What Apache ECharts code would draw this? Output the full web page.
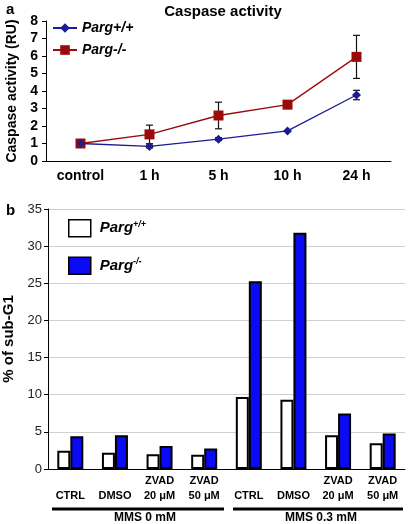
<!DOCTYPE html>
<html><head><meta charset="utf-8">
<script src="https://cdn.jsdelivr.net/npm/echarts@6/dist/echarts.min.js"></script>
<style>html,body{margin:0;padding:0;background:#fff}#c{width:408px;height:524px}</style>
</head><body><div id="c"></div>
<script>
// Panel a: caspase activity
const timeCats = ['control', '1 h', '5 h', '10 h', '24 h'];
const caspWT = [1.0, 0.83, 1.25, 1.72, 3.77];
const caspWTErr = [0, 0.08, 0.08, 0.06, 0.27];
const caspKO = [1.0, 1.52, 2.6, 3.22, 5.95];
const caspKOErr = [0, 0.53, 0.76, 0.05, 1.23];
const caspTicks = [0, 1, 2, 3, 4, 5, 6, 7, 8];

// Panel b: % of sub-G1
const treatCats = ['CTRL', 'DMSO', 'ZVAD\n20 μM', 'ZVAD\n50 μM', 'CTRL', 'DMSO', 'ZVAD\n20 μM', 'ZVAD\n50 μM'];
const subG1WT = [2.46, 2.19, 2.0, 1.92, 9.69, 9.33, 4.55, 3.48];
const subG1KO = [4.42, 4.55, 3.08, 2.77, 25.27, 31.8, 7.46, 4.78];
const groupLabels = ['MMS 0 mM', 'MMS 0.3 mM'];

const FONT = 'Liberation Sans, Arial, sans-serif';
const RED = '#9a0a0a', NAVY = '#1c1c96', BLUE = '#0a0af5';

function errSeries(vals, errs) {
  const data = vals.map((v, i) => [i, v - errs[i], v + errs[i]]).filter((d, i) => errs[i] > 0.06);
  return {
    type: 'custom', xAxisIndex: 0, yAxisIndex: 0, z: 1,
    data: data,
    renderItem: function (params, api) {
      const x = api.value(0);
      const lo = api.coord([x, api.value(1)]);
      const hi = api.coord([x, api.value(2)]);
      const w = 3.5;
      const st = { stroke: '#111', lineWidth: 1.2 };
      return { type: 'group', children: [
        { type: 'line', shape: { x1: lo[0], y1: lo[1], x2: hi[0], y2: hi[1] }, style: st },
        { type: 'line', shape: { x1: lo[0] - w, y1: lo[1], x2: lo[0] + w, y2: lo[1] }, style: st },
        { type: 'line', shape: { x1: hi[0] - w, y1: hi[1], x2: hi[0] + w, y2: hi[1] }, style: st }
      ]};
    }
  };
}

const chart = echarts.init(document.getElementById('c'), null, { renderer: 'canvas' });
chart.setOption({
  animation: false,
  textStyle: { fontFamily: FONT },
  title: [
    { text: 'Caspase activity', left: 218, textAlign: 'center', top: -1, textStyle: { fontSize: 15, fontWeight: 'bold', color: '#000', fontFamily: FONT } },
    { text: 'a', left: 1, top: -3, textStyle: { fontSize: 15, fontWeight: 'bold', color: '#000', fontFamily: FONT } },
    { text: 'b', left: 1, top: 198, textStyle: { fontSize: 15, fontWeight: 'bold', color: '#000', fontFamily: FONT } }
  ],
  legend: [
    { orient: 'vertical', left: 52, top: 21, padding: 0, itemWidth: 24, itemHeight: 12, itemGap: 8,
      data: ['Parg+/+', 'Parg-/-'],
      textStyle: { fontSize: 14, fontWeight: 'bold', fontStyle: 'italic', color: '#000', fontFamily: FONT } },
    { orient: 'vertical', left: 68, top: 219, padding: 0, itemWidth: 22, itemHeight: 17, itemGap: 19,
      data: [{ name: 'wt', icon: 'rect' }, { name: 'ko', icon: 'rect' }],
      itemStyle: { borderColor: '#000', borderWidth: 1.5 },
      formatter: function (n) { return n === 'wt' ? '{b|Parg}{s|+/+}' : '{b|Parg}{s|-/-}'; },
      textStyle: { padding: [0, 0, 0, 4], rich: {
        b: { fontSize: 15, fontWeight: 'bold', fontStyle: 'italic', color: '#000', fontFamily: FONT },
        s: { fontSize: 9, fontWeight: 'bold', fontStyle: 'italic', color: '#000', fontFamily: FONT, verticalAlign: 'top', padding: [0, 0, 8, 0] }
      } } }
  ],
  grid: [
    { left: 46, top: 21, width: 345, height: 140, containLabel: false, outerBoundsMode: 'none' },
    { left: 48, top: 209, width: 357, height: 260, containLabel: false, outerBoundsMode: 'none' }
  ],
  xAxis: [
    { type: 'category', gridIndex: 0, data: timeCats, boundaryGap: true,
      axisLine: { lineStyle: { color: '#000', width: 1 } },
      axisTick: { length: 4, lineStyle: { color: '#000' } },
      axisLabel: { fontSize: 14, fontWeight: 'bold', color: '#000', margin: 8, fontFamily: FONT } },
    { type: 'category', gridIndex: 1, data: treatCats, boundaryGap: true,
      axisLine: { lineStyle: { color: '#000', width: 1 } },
      axisTick: { length: 5, lineStyle: { color: '#000' } },
      axisLabel: { fontSize: 11, fontWeight: 'bold', color: '#000', margin: 4, lineHeight: 15, fontFamily: FONT, interval: 0,
        formatter: function (v) { return v.indexOf('\n') < 0 ? '\n' + v : v; } } }
  ],
  yAxis: [
    { type: 'value', gridIndex: 0, min: caspTicks[0], max: caspTicks[caspTicks.length - 1], interval: 1,
      name: 'Caspase activity (RU)', nameLocation: 'middle', nameGap: 26,
      nameTextStyle: { fontSize: 14, fontWeight: 'bold', color: '#000', fontFamily: FONT },
      axisLine: { show: true, lineStyle: { color: '#000' } },
      axisTick: { show: true, length: 4, lineStyle: { color: '#000' } },
      splitLine: { show: false },
      axisLabel: { fontSize: 14, fontWeight: 'bold', color: '#000', margin: 8, fontFamily: FONT } },
    { type: 'value', gridIndex: 1, min: 0, max: 35, interval: 5,
      name: '% of sub-G1', nameLocation: 'middle', nameGap: 30,
      nameTextStyle: { fontSize: 15, fontWeight: 'bold', color: '#000', fontFamily: FONT },
      axisLine: { show: true, lineStyle: { color: '#000' } },
      axisTick: { show: true, length: 4, lineStyle: { color: '#000' } },
      splitLine: { show: true, lineStyle: { color: '#cfcfcf', width: 1 } },
      axisLabel: { fontSize: 13, color: '#222', margin: 6, fontFamily: FONT } }
  ],
  series: [
    errSeries(caspKO, caspKOErr),
    errSeries(caspWT, caspWTErr),
    { name: 'Parg+/+', type: 'line', xAxisIndex: 0, yAxisIndex: 0, data: caspWT, z: 3,
      symbol: 'diamond', symbolSize: 9, color: NAVY,
      lineStyle: { color: NAVY, width: 1.3 }, itemStyle: { color: NAVY } },
    { name: 'Parg-/-', type: 'line', xAxisIndex: 0, yAxisIndex: 0, data: caspKO, z: 2,
      symbol: 'rect', symbolSize: 10, color: RED,
      lineStyle: { color: RED, width: 1.3 }, itemStyle: { color: RED } },
    { name: 'wt', type: 'bar', xAxisIndex: 1, yAxisIndex: 1, data: subG1WT, barWidth: 13, barGap: '0%',
      itemStyle: { color: '#fff', borderColor: '#000', borderWidth: 2 } },
    { name: 'ko', type: 'bar', xAxisIndex: 1, yAxisIndex: 1, data: subG1KO, barWidth: 13, barGap: '0%',
      itemStyle: { color: BLUE, borderColor: '#000', borderWidth: 2 } }
  ],
  graphic: [
    { type: 'line', shape: { x1: 52, y1: 509, x2: 224, y2: 509 }, style: { stroke: '#000', lineWidth: 3 } },
    { type: 'line', shape: { x1: 233, y1: 509, x2: 403, y2: 509 }, style: { stroke: '#000', lineWidth: 3 } },
    { type: 'text', x: 145, y: 518, style: { text: groupLabels[0], textAlign: 'center', textVerticalAlign: 'middle', font: 'bold 12px ' + FONT, fill: '#000' } },
    { type: 'text', x: 321, y: 518, style: { text: groupLabels[1], textAlign: 'center', textVerticalAlign: 'middle', font: 'bold 12px ' + FONT, fill: '#000' } }
  ]
});
</script></body></html>
